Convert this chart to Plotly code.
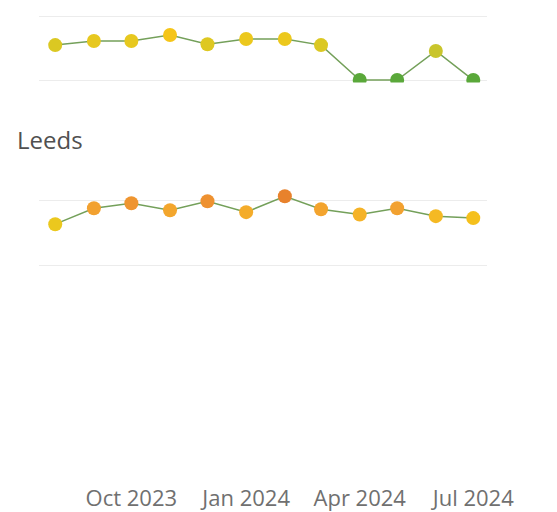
import plotly.graph_objects as go

months = ["2023-08-01", "2023-09-01", "2023-10-01", "2023-11-01", "2023-12-01", "2024-01-01",
          "2024-02-01", "2024-03-01", "2024-04-01", "2024-05-01", "2024-06-01", "2024-07-01"]
top_values = [27.3, 30.5, 30.5, 35.2, 28.0, 32.0, 32.0, 27.3, 0.0, 0.0, 22.7, 0.0]
leeds_values = [31.5, 43.8, 47.7, 42.3, 49.2, 40.8, 53.0, 43.0, 39.0, 43.8, 37.7, 36.2]
tick_vals = ["2023-10-01", "2024-01-01", "2024-04-01", "2024-07-01"]
tick_text = ["Oct 2023", "Jan 2024", "Apr 2024", "Jul 2024"]
panel_title = "Leeds"

colorscale = [
    [0.0, "#5aa83a"],
    [0.41, "#c8c52c"],
    [0.5, "#dcc822"],
    [0.6, "#f0c81c"],
    [0.64, "#f5c518"],
    [0.70, "#f5b526"],
    [0.8, "#f2a030"],
    [0.9, "#ee9030"],
    [1.0, "#e57a2a"],
]

def trace(vals, xa, ya):
    return go.Scatter(
        x=months, y=vals, mode="lines+markers", xaxis=xa, yaxis=ya,
        line=dict(color="#74a05a", width=1.5),
        marker=dict(size=14, color=vals, colorscale=colorscale, cmin=0, cmax=55,
                    line=dict(width=0)),
        showlegend=False, hoverinfo="x+y",
    )

fig = go.Figure()
fig.add_trace(trace(top_values, "x", "y"))
fig.add_trace(trace(leeds_values, "x2", "y2"))

H = 483.0
def dom(top_px, bot_px):
    return [(H - bot_px) / H, (H - top_px) / H]

xr = ["2023-07-19", "2024-07-12"]
common_x = dict(range=xr, type="date", showgrid=False, zeroline=False, showline=False,
                tickvals=tick_vals, ticktext=tick_text)
grid_y = dict(range=[-2, 62.5], tickvals=[0, 50], showticklabels=False, showgrid=True,
              gridcolor="#ececec", gridwidth=1, zeroline=False, showline=False)

fig.update_layout(
    width=557, height=512,
    margin=dict(l=39, r=70, t=0, b=29, autoexpand=False),
    paper_bgcolor="white", plot_bgcolor="white",
    font=dict(family="Open Sans", color="#666666"),
    xaxis=dict(common_x, anchor="y", showticklabels=False),
    yaxis=dict(grid_y, domain=dom(0, 82.6)),
    xaxis2=dict(common_x, anchor="y2", showticklabels=False),
    yaxis2=dict(grid_y, domain=dom(184, 267.6)),
    xaxis3=dict(common_x, anchor="y3", showticklabels=True,
                tickfont=dict(size=22, color="#707070", family="Open Sans")),
    yaxis3=dict(domain=[0, 0.1], visible=False, range=[0, 1]),
    annotations=[dict(text=panel_title, xref="paper", yref="paper",
                      x=(15 - 39) / 448.0, y=(H - 140) / H, xanchor="left", yanchor="middle",
                      showarrow=False, font=dict(size=24, color="#505050", family="Open Sans"))],
)
# invisible trace to activate third axis
fig.add_trace(go.Scatter(x=[xr[0]], y=[0.5], xaxis="x3", yaxis="y3", mode="markers",
                         marker=dict(opacity=0), showlegend=False, hoverinfo="skip"))

fig.write_html("out.html", post_script="document.body.style.margin='0';",
               config={"displayModeBar": False})
